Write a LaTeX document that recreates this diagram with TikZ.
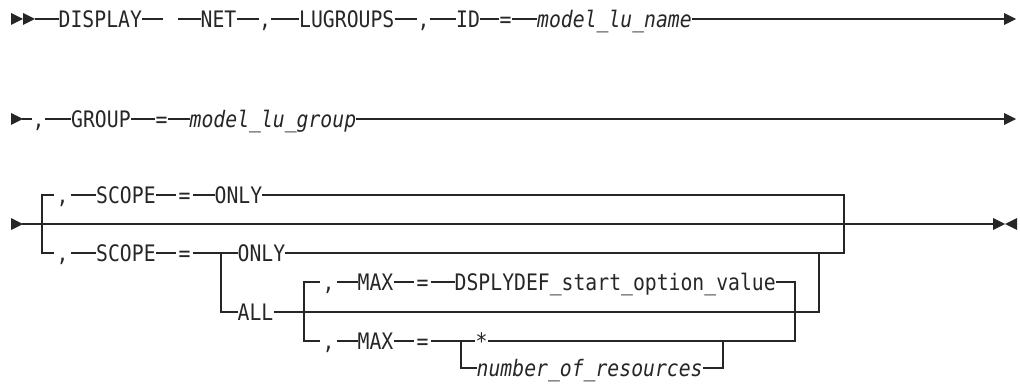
\documentclass[tikz,border=0pt]{standalone}
\usepackage{fontspec}
\newfontfamily\railfont[FakeStretch=0.87]{DejaVu Sans Mono}
\newcommand\railsize{\fontsize{22.7pt}{24pt}\selectfont}
\usetikzlibrary{positioning}
\definecolor{railink}{HTML}{262626}

\begin{document}
\begin{tikzpicture}[x=1pt,y=-1pt,
  every node/.style={font=\railfont\railsize,text=railink,inner sep=0pt,
                     text height=17.5pt,text depth=0pt},
  kw/.style  ={anchor=west},
  var/.style ={anchor=west,font=\railfont\itshape\railsize},
  sym/.style ={anchor=center},
  symw/.style={anchor=center,minimum width=16pt},
  rail/.style={draw=railink,line width=1.1pt},
  headR/.pic ={\fill[railink] (0,-6) -- (12,0) -- (0,6) -- cycle;},
  headL/.pic ={\fill[railink] (0,-6) -- (-12,0) -- (0,6) -- cycle;},
]
\useasboundingbox (0,0) rectangle (1020,385);

% --- first line
\pic at (11,19) {headR};
\pic at (23,19) {headR};
\coordinate (in1) at (35,19);
\node[kw]  (display) at (58.5,19) {DISPLAY};
\coordinate (gapL) at (163,19);
\coordinate (gapR) at (178,19);
\node[kw]  (net)     at (200.5,19) {NET};
\node[sym] (cma1)    at (265,19)   {,};
\node[kw]  (lugrp)   at (299,19)   {LUGROUPS};
\node[sym] (cma2)    at (423.5,19) {,};
\node[kw]  (id)      at (456,19)   {ID};
\node[sym] (eq1)     at (505.5,19) {=};
\node[var] (luname)  at (537,19)   {model\_lu\_name};
\coordinate (out1) at (1004,19);
\pic at (out1) {headR};

\draw[rail] (in1) -- (display.west);
\draw[rail] (display.east) -- (gapL);
\draw[rail] (gapR) -- (net.west);
\draw[rail] (net.east) -- (cma1.west);
\draw[rail] (cma1.east) -- (lugrp.west);
\draw[rail] (lugrp.east) -- (cma2.west);
\draw[rail] (cma2.east) -- (id.west);
\draw[rail] (id.east) -- (eq1.west);
\draw[rail] (eq1.east) -- (luname.west);
\draw[rail] (luname.east) -- (out1);

% --- second line
\pic at (11,119) {headR};
\coordinate (in2) at (22,119);
\node[sym] (cma3)    at (38.5,119) {,};
\node[kw]  (group)   at (71,119)   {GROUP};
\node[sym] (eq2)     at (161.5,119) {=};
\node[var] (lugroup) at (189.5,119) {model\_lu\_group};
\coordinate (out2) at (1004,119);
\pic at (out2) {headR};

\draw[rail] (in2) -- (cma3.west);
\draw[rail] (cma3.east) -- (group.west);
\draw[rail] (group.east) -- (eq2.west);
\draw[rail] (eq2.east) -- (lugroup.west);
\draw[rail] (lugroup.east) -- (out2);

% --- third line
\pic at (11,224) {headR};
\coordinate (in3)   at (22,224);
\coordinate (s3in)  at (42,224);
\coordinate (s3out) at (844,224);
\coordinate (out3)  at (993,224);
\pic at (out3) {headR};
\pic at (1017,224) {headL};

\node[symw] (cma4)   at (62.5,195)  {,};
\node[kw]   (scope1) at (96,195)    {SCOPE};
\node[symw] (eq3)    at (184.5,195) {=};
\node[kw]   (only1)  at (214.5,195) {ONLY};

\node[symw] (cma5)   at (62.5,253)  {,};
\node[kw]   (scope2) at (96,253)    {SCOPE};
\node[symw] (eq4)    at (184.5,253) {=};
\coordinate (s4in)  at (221,253);
\coordinate (s4out) at (819,253);
\node[kw]   (only2)  at (237.5,253) {ONLY};
\node[kw]   (all)    at (237.5,312) {ALL};

\coordinate (s5in)  at (304,312);
\coordinate (s5out) at (795,312);
\node[symw] (cma6)   at (328.5,282) {,};
\node[kw]   (max1)   at (357.5,282) {MAX};
\node[symw] (eq5)    at (422.5,282) {=};
\node[kw]   (dsply)  at (454.5,282) {DSPLYDEF\_start\_option\_value};

\node[symw] (cma7)   at (328.5,341) {,};
\node[kw]   (max2)   at (357.5,341) {MAX};
\node[symw] (eq6)    at (422.5,341) {=};
\coordinate (s6in)  at (461,341);
\coordinate (s6out) at (723,341);
\node[sym]  (star)   at (481.5,341) {*};
\node[var]  (nres)   at (476.5,368) {number\_of\_resources};

\draw[rail] (in3) -- (out3);
\draw[rail] (s3in) |- (cma4.west);
\draw[rail] (cma4.east) -- (scope1.west);
\draw[rail] (scope1.east) -- (eq3.west);
\draw[rail] (eq3.east) -- (only1.west);
\draw[rail] (only1.east) -| (s3out);

\draw[rail] (s3in) |- (cma5.west);
\draw[rail] (cma5.east) -- (scope2.west);
\draw[rail] (scope2.east) -- (eq4.west);
\draw[rail] (eq4.east) -- (s4in) -- (only2.west);
\draw[rail] (only2.east) -| (s3out);
\draw[rail] (s4in) |- (all.west);
\draw[rail] (all.east) -| (s4out);

\draw[rail] (s5in) |- (cma6.west);
\draw[rail] (cma6.east) -- (max1.west);
\draw[rail] (max1.east) -- (eq5.west);
\draw[rail] (eq5.east) -- (dsply.west);
\draw[rail] (dsply.east) -| (s5out);

\draw[rail] (s5in) |- (cma7.west);
\draw[rail] (cma7.east) -- (max2.west);
\draw[rail] (max2.east) -- (eq6.west);
\draw[rail] (eq6.east) -- (s6in) -- (star.west);
\draw[rail] (star.east) -| (s5out);
\draw[rail] (s6in) |- (nres.west);
\draw[rail] (nres.east) -| (s6out);
\end{tikzpicture}
\end{document}
